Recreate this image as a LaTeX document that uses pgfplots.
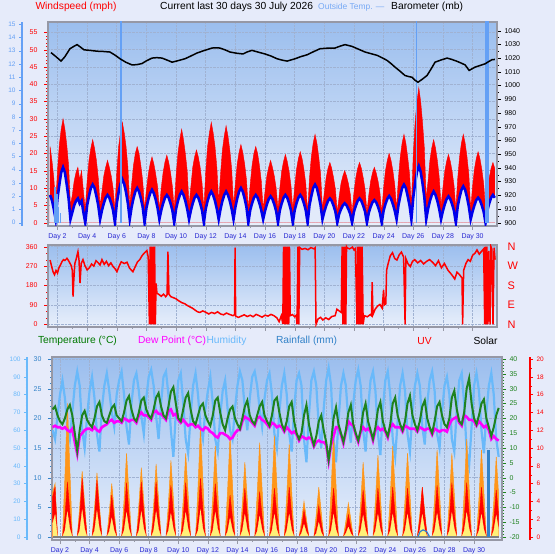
\documentclass[border=0pt]{standalone}
\usepackage{pgfplots}
\pgfplotsset{compat=1.18}
\usepackage{pgfplotstable}
\usepackage{fontspec}
\setmainfont{Liberation Sans}

\definecolor{pagebg}{RGB}{230,235,250}
\definecolor{plottop}{RGB}{155,190,238}
\definecolor{plotbot}{RGB}{232,239,251}
\definecolor{gridc}{RGB}{160,178,210}
\definecolor{framec}{RGB}{150,152,165}
\definecolor{daylbl}{RGB}{40,40,210}
\definecolor{windblue}{RGB}{0,0,235}
\definecolor{calmfill}{RGB}{226,234,250}
\definecolor{rainlb}{RGB}{100,160,245}
\definecolor{humlb}{RGB}{105,185,250}
\definecolor{titlelb}{RGB}{120,170,245}
\definecolor{tempgreen}{RGB}{30,130,30}
\definecolor{labgreen}{RGB}{0,120,0}
\definecolor{dewmag}{RGB}{255,0,255}
\definecolor{solarorange}{RGB}{255,150,25}
\definecolor{solaryellow}{RGB}{255,240,120}
\definecolor{rainblue}{RGB}{50,130,200}

\pgfplotsset{
  /pgf/number format/assume math mode=true,
  /pgf/number format/1000 sep={},
  tickfont/.style={font=\fontsize{7}{8}\selectfont},
  panel/.style={
    scale only axis,
    axis background/.style={top color=plottop, bottom color=plotbot},
    axis line style={framec, line width=1.5bp},
    grid=major,
    major grid style={gridc, densely dotted, line width=0.6bp},
    tick label style={tickfont},
    tick align=outside,
    major tick length=4bp, minor tick length=2bp,
    xtick pos=left, ytick pos=left,
    xtick style={framec},
  },
  overlay/.style={
    scale only axis,
    tick label style={tickfont},
    tick align=outside,
    major tick length=4bp, minor tick length=2bp,
  },
  days/.style={
    xtick={2,4,...,30},
    xticklabels={Day 2,Day 4,Day 6,Day 8,Day 10,Day 12,Day 14,Day 16,Day 18,Day 20,Day 22,Day 24,Day 26,Day 28,Day 30},
    minor x tick num=1,
    xticklabel style={text=daylbl},
  },
}

% Wind: gust (g) and average (a), one row every 3 hours from day 1.5
\pgfplotstableread[row sep=\\]{
g a \\
22 8 \\ 18 6.5 \\ 13 4 \\ 5 1 \\
15 7 \\ 22.5 11 \\ 27 14.5 \\ 30 16 \\ 27 14.5 \\ 22.5 11 \\ 16.5 7 \\ 5 1 \\
8 3 \\ 12 5 \\ 14.5 6.3 \\ 16 7 \\ 12.5 5.5 \\ 15 6.3 \\ 9 3 \\ 4 0 \\
12 5 \\ 18 7.7 \\ 21.5 10 \\ 24 11 \\ 21.5 10 \\ 18 7.7 \\ 13 5 \\ 5 1 \\
9 3.6 \\ 13.5 5.6 \\ 16 7.2 \\ 18 8 \\ 16 7.2 \\ 13.5 5.6 \\ 10 3.6 \\ 4 0 \\
14.5 5.6 \\ 22 8.8 \\ 26 11.2 \\ 29 12.5 \\ 26 11.2 \\ 22 8.8 \\ 16 5.6 \\ 5 1 \\
11 4.5 \\ 16.5 7 \\ 20 9 \\ 22 10 \\ 20 9 \\ 16.5 7 \\ 12 4.5 \\ 4 0 \\
9.5 4.3 \\ 14 6.7 \\ 17 8.5 \\ 19 9.5 \\ 17 8.5 \\ 14 6.7 \\ 10.5 4.3 \\ 4 1 \\
10 3.6 \\ 14.5 5.6 \\ 17.5 7.2 \\ 19.5 8 \\ 17.5 7.2 \\ 14.5 5.6 \\ 10.5 3.6 \\ 4 0 \\
13.5 4 \\ 20 6.3 \\ 24 8 \\ 27 9 \\ 24 8 \\ 20 6.3 \\ 15 4 \\ 5 1 \\
10.5 3.6 \\ 16 5.6 \\ 19 7.2 \\ 21 8 \\ 19 7.2 \\ 16 5.6 \\ 11.5 3.6 \\ 4 0 \\
14.5 4 \\ 22 6.3 \\ 26 8 \\ 29 9 \\ 26 8 \\ 22 6.3 \\ 16 4 \\ 6 1 \\
14 4 \\ 21 6.3 \\ 25 8 \\ 28 9 \\ 25 8 \\ 21 6.3 \\ 15.5 4 \\ 5 1 \\
11.3 4.5 \\ 17 7 \\ 20.3 9 \\ 22.6 10 \\ 20.3 9 \\ 17 7 \\ 12.4 4.5 \\ 4 0 \\
11 3.6 \\ 16.5 5.6 \\ 20 7.2 \\ 22 8 \\ 20 7.2 \\ 16.5 5.6 \\ 12 3.6 \\ 4 1 \\
9 3.4 \\ 13.5 5.3 \\ 16 6.8 \\ 18 7.6 \\ 16 6.8 \\ 13.5 5.3 \\ 10 3.4 \\ 4 0 \\
10 3.6 \\ 14.8 5.6 \\ 17.7 7.2 \\ 19.7 8 \\ 17.7 7.2 \\ 14.8 5.6 \\ 10.8 3.6 \\ 4 0 \\
10.3 3.6 \\ 15.4 5.6 \\ 18.5 7.2 \\ 20.5 8 \\ 18.5 7.2 \\ 15.4 5.6 \\ 11.3 3.6 \\ 3 0 \\
12.8 5 \\ 19 7.7 \\ 23 10 \\ 25.5 11 \\ 23 10 \\ 19 7.7 \\ 14 5 \\ 4 1 \\
8.7 3.2 \\ 13 4.9 \\ 15.7 6.3 \\ 17.4 7 \\ 15.7 6.3 \\ 13 4.9 \\ 9.6 3.2 \\ 3 0 \\
7.5 2.5 \\ 11.3 3.9 \\ 13.5 5 \\ 15 5.6 \\ 13.5 5 \\ 11.3 3.9 \\ 8.3 2.5 \\ 3 0 \\
8.7 3.2 \\ 13 4.9 \\ 15.7 6.3 \\ 17.4 7 \\ 15.7 6.3 \\ 13 4.9 \\ 9.6 3.2 \\ 3 0 \\
8 2.9 \\ 12 4.6 \\ 14.4 5.9 \\ 16 6.5 \\ 14.4 5.9 \\ 12 4.6 \\ 8.8 2.9 \\ 3 0 \\
10 3.5 \\ 15 5.4 \\ 18 6.9 \\ 20 7.7 \\ 18 6.9 \\ 15 5.4 \\ 11 3.5 \\ 4 1 \\
12.8 5 \\ 19 7.7 \\ 23 10 \\ 25.5 11 \\ 23 10 \\ 19 7.7 \\ 14 5 \\ 5 1 \\
19.5 7.3 \\ 29 11.4 \\ 35 14.7 \\ 39 16.3 \\ 35 14.7 \\ 29 11.4 \\ 21.5 7.3 \\ 7 1 \\
12 4 \\ 18 6.3 \\ 21.6 8 \\ 24 9 \\ 21.6 8 \\ 18 6.3 \\ 13.2 4 \\ 5 1 \\
10 3.4 \\ 14.8 5.3 \\ 17.7 6.8 \\ 19.7 7.6 \\ 17.7 6.8 \\ 14.8 5.3 \\ 10.8 3.4 \\ 4 0 \\
12.8 4.7 \\ 19 7.4 \\ 23 9.5 \\ 25.5 10.5 \\ 23 9.5 \\ 19 7.4 \\ 14 4.7 \\ 4 1 \\
10.3 3.2 \\ 15.4 5 \\ 18.5 6.5 \\ 20.5 7.2 \\ 18.5 6.5 \\ 15.4 5 \\ 11.3 3.2 \\ 4 0 \\
8.7 3.6 \\ 13 5.6 \\ 15.7 7.2 \\ 17.4 8 \\ 15.7 7.2 \\
}\windtab

% Temperature, dew point, humidity, solar, UV and light level, one row every 4 hours from day 1.5
\pgfplotstableread[row sep=\\]{
T D H S U Y \\
23 17 60 25 4.5 1.5 \\ 24 17.5 55 30 5.6 2.5 \\ 21 17 68 0 0 0 \\
19 17 80 0 0 0 \\ 18 16.5 88 0 0 0 \\ 20 17 78 34 2.2 0.7 \\ 23 16 62 75 6.2 2.8 \\ 24.5 15.5 55 38 2.8 0.9 \\ 21 16.5 70 0 0 0 \\
15 12 85 0 0 0 \\ 9 8 93 0 0 0 \\ 16 14 85 17 2.3 0.7 \\ 21 15 60 37 6.6 3.0 \\ 22.5 16 50 19 3.0 0.9 \\ 19.5 16.5 68 0 0 0 \\
18 16.5 82 0 0 0 \\ 17 16 90 0 0 0 \\ 20 17 78 16 2.2 0.7 \\ 24 16 58 36 6.4 2.9 \\ 25.5 15.5 48 18 2.9 0.9 \\ 21 17 72 0 0 0 \\
19 17.5 85 0 0 0 \\ 18.5 18 92 0 0 0 \\ 21 19 82 14 1.6 0.6 \\ 23.5 19.5 70 30 4.7 2.1 \\ 24.5 18.5 62 15 2.1 0.7 \\ 21 19 80 0 0 0 \\
20 19 88 0 0 0 \\ 19 18.5 93 0 0 0 \\ 22 20 80 21 2.1 0.7 \\ 26 19.5 62 47 6.1 2.7 \\ 27.5 19 52 24 2.7 0.9 \\ 23 19.5 75 0 0 0 \\
20 19.5 88 0 0 0 \\ 19 18.5 92 0 0 0 \\ 22 21 82 18 2.2 0.7 \\ 26 22 68 39 6.2 2.8 \\ 27 21 58 20 2.8 0.9 \\ 23 21 78 0 0 0 \\
21 20.5 90 0 0 0 \\ 20 19.5 94 0 0 0 \\ 23 22 85 18 2.2 0.7 \\ 27 22.5 68 41 6.2 2.8 \\ 28.5 21.5 55 21 2.8 0.9 \\ 24 21.5 75 0 0 0 \\
21 20.5 90 0 0 0 \\ 20 19.5 93 0 0 0 \\ 24 22.5 80 19 2.0 0.7 \\ 29 23 60 43 5.8 2.6 \\ 30.5 21 45 22 2.6 0.9 \\ 25 21.5 70 0 0 0 \\
20 19.5 88 0 0 0 \\ 19 18.5 92 0 0 0 \\ 23 19.5 75 21 2.1 0.7 \\ 27 18.5 55 47 6.1 2.7 \\ 28.5 17.5 47 24 2.7 0.9 \\ 23 18 68 0 0 0 \\
19 18 85 0 0 0 \\ 18 17 92 0 0 0 \\ 21 17.5 80 28 2.3 0.7 \\ 24 16.5 62 62 6.6 3.0 \\ 25 16 55 31 3.0 0.9 \\ 21 17 72 0 0 0 \\
19 16.5 82 0 0 0 \\ 17.5 15.5 90 0 0 0 \\ 21 15 75 23 2.1 0.7 \\ 26 14 55 51 6.0 2.7 \\ 27 13.5 48 26 2.7 0.9 \\ 22 15 68 0 0 0 \\
18 15 82 0 0 0 \\ 16 14.5 88 0 0 0 \\ 20 14 72 26 1.6 0.6 \\ 23 13 60 57 4.7 2.1 \\ 24 13.5 55 29 2.1 0.7 \\ 20 15 72 0 0 0 \\
18 16 85 0 0 0 \\ 16.5 16 93 0 0 0 \\ 20 19 88 19 1.9 0.7 \\ 24 20.5 72 42 5.5 2.5 \\ 26 20 60 21 2.5 0.8 \\ 21 19.5 78 0 0 0 \\
19 18.5 90 0 0 0 \\ 18 17.5 93 0 0 0 \\ 21 20 85 24 1.8 0.6 \\ 24 20.5 72 53 5.1 2.3 \\ 25.5 19.5 62 27 2.3 0.8 \\ 21 19 78 0 0 0 \\
19 18 88 0 0 0 \\ 17.5 17 92 0 0 0 \\ 21 18.5 80 26 1.9 0.7 \\ 26 18 58 57 5.5 2.5 \\ 27 17 50 29 2.5 0.8 \\ 22 17.5 70 0 0 0 \\
18 17 85 0 0 0 \\ 16 15.5 92 0 0 0 \\ 19 17 80 23 2.0 0.7 \\ 24 16 58 52 5.6 2.5 \\ 25.5 15 48 26 2.5 0.8 \\ 19 15.5 72 0 0 0 \\
15 14.5 88 0 0 0 \\ 13 12.5 92 0 0 0 \\ 15 14 85 9 1.0 0.4 \\ 21 13.5 55 20 3.0 1.4 \\ 24.5 13 42 10 1.4 0.5 \\ 18 13.5 68 0 0 0 \\
14 13 88 0 0 0 \\ 11 10.5 93 0 0 0 \\ 14 12 85 13 1.2 0.4 \\ 19 12.5 62 28 3.5 1.6 \\ 21 12 50 14 1.6 0.5 \\ 16 12 72 0 0 0 \\
12 11 88 0 0 0 \\ 6 5.5 95 0 0 0 \\ 12 11 85 26 1.9 0.7 \\ 20 14 55 58 5.5 2.5 \\ 23.7 17 42 29 2.5 0.8 \\ 18 17 65 0 0 0 \\
15 14.5 85 0 0 0 \\ 12 11.5 92 0 0 0 \\ 16 15.5 85 9 0.9 0.4 \\ 22 19 65 19 2.5 1.1 \\ 24.5 18 53 10 1.1 0.4 \\ 18 17.5 75 0 0 0 \\
15 14.5 88 0 0 0 \\ 12.5 12 94 0 0 0 \\ 16 15.5 85 19 1.9 0.7 \\ 22 17 60 42 5.3 2.4 \\ 25 16 48 21 2.4 0.8 \\ 19 16.5 72 0 0 0 \\
16 15.5 88 0 0 0 \\ 13 12.5 93 0 0 0 \\ 17 16 82 21 1.9 0.7 \\ 23 17 58 46 5.5 2.5 \\ 25.5 16 46 23 2.5 0.8 \\ 19 16.5 72 0 0 0 \\
16 15.5 88 0 0 0 \\ 14 13.5 93 0 0 0 \\ 18 17 80 23 2.0 0.7 \\ 25 18 55 51 5.6 2.5 \\ 27 17 45 26 2.5 0.8 \\ 21 17 65 0 0 0 \\
18 17 85 0 0 0 \\ 16 15.5 92 0 0 0 \\ 19 17.5 82 21 1.9 0.7 \\ 25 17 58 47 5.5 2.5 \\ 27.6 16.5 48 24 2.5 0.8 \\ 21 16.5 70 0 0 0 \\
18 16.5 85 0 0 0 \\ 16 15.5 92 0 0 0 \\ 19 17 85 13 2.0 0.7 \\ 24 16.5 62 28 5.6 2.5 \\ 26 16 52 14 2.5 0.8 \\ 20 16.5 75 0 0 0 \\
17 16.5 88 0 0 0 \\ 15 14.5 93 0 0 0 \\ 19 16.5 82 22 2.0 0.7 \\ 24 16 58 49 5.8 2.6 \\ 25.5 15.5 50 25 2.6 0.9 \\ 21 16 70 0 0 0 \\
18 16 85 0 0 0 \\ 17 15.5 90 0 0 0 \\ 20 18 80 21 2.1 0.7 \\ 27 19.5 55 47 6.1 2.7 \\ 29.3 20 48 24 2.7 0.9 \\ 23 20.5 72 0 0 0 \\
19 18.5 88 0 0 0 \\ 18 17.5 92 0 0 0 \\ 22 21 75 25 2.1 0.7 \\ 30 20.5 48 55 6.1 2.7 \\ 33.5 19.5 40 28 2.7 0.9 \\ 25 19.5 62 0 0 0 \\
20 19 85 0 0 0 \\ 18 17.5 92 0 0 0 \\ 21 19 82 22 2.0 0.7 \\ 25 18 60 49 5.6 2.5 \\ 26.4 17 47 25 2.5 0.8 \\ 20 17.5 70 0 0 0 \\
17 16 85 0 0 0 \\ 14 13 92 0 0 0 \\ 17 14 80 20 1.9 0.7 \\ 21 13 55 45 5.3 2.4 \\ 23.5 12.5 45 23 2.4 0.8 \\
}\wxtab

\begin{document}
\begin{tikzpicture}[x=1bp,y=1bp]
\useasboundingbox (0,0) rectangle (555,554);
\fill[pagebg] (0,0) rectangle (555,554);

% ---------- headings ----------
\begin{scope}[every node/.style={font=\fontsize{10.3}{12}\selectfont, inner sep=0pt}]
  \node[text=red] at (76,547) {Windspeed (mph)};
  \node[anchor=west] at (160,547) {Current last 30 days 30 July 2026};
  \node[text=titlelb, anchor=west, font=\fontsize{8.5}{10}\selectfont] at (318,547) {Outside Temp. ---};
  \node[anchor=west] at (391,547) {Barometer (mb)};
  \node[text=labgreen] at (77.5,213) {Temperature (°C)};
  \node[text=dewmag] at (172,213) {Dew Point (°C)};
  \node[text=humlb] at (226.5,213) {Humidity};
  \node[text=rainblue] at (306.5,213) {Rainfall (mm)};
  \node[text=red] at (424.5,213) {UV};
  \node at (485.5,213) {Solar};
\end{scope}

% ---------- panel 1: wind speed ----------
\begin{axis}[panel, days, at={(48bp,328bp)}, anchor=south west,
  width=449bp, height=204bp,
  xmin=1.36, xmax=31.65, ymin=-0.95, ymax=57.98,
  ytick={0,5,...,55}, minor y tick num=4,
  ytick style={red}, yticklabel style={text=red, xshift=-3bp}]
  \addplot[draw=red, fill=red, line width=0.4bp]
    table[x expr=1.5+\coordindex/8, y=g] {\windtab} \closedcycle;
  \addplot[draw=none, fill=calmfill]
    table[x expr=1.5+\coordindex/8, y=a] {\windtab} \closedcycle;
  \addplot[windblue, line width=2.6bp]
    table[x expr=1.5+\coordindex/8, y=a] {\windtab};
\end{axis}

% rain rate (light blue scale)
\begin{axis}[overlay, at={(48bp,328bp)}, anchor=south west,
  width=449bp, height=204bp, hide axis,
  xmin=1.36, xmax=31.65, ymin=-0.25, ymax=15.17]
  \addplot[ycomb, rainlb, line width=1.6bp]
    coordinates {(1.85,2.7) (1.95,2.2) (2.08,1.2) (2.2,0.7)};
  \addplot[ycomb, rainlb, line width=1.5bp]
    coordinates {(6.28,16) (26.22,16)};
  \addplot[ycomb, rainlb, line width=4.5bp]
    coordinates {(30.98,16)};
\end{axis}
\begin{axis}[overlay, at={(22bp,328bp)}, anchor=south west,
  width=1bp, height=204bp, xmin=0, xmax=1, ymin=-0.25, ymax=15.17,
  hide x axis, axis y line*=left,
  ytick={0,...,15}, minor y tick num=4,
  major tick length=3bp, minor tick length=1.5bp,
  y axis line style={rainlb, line width=1.5bp},
  ytick style={rainlb}, yticklabel style={text=rainlb, font=\fontsize{6.5}{7}\selectfont}]
  \addplot[draw=none] coordinates {(0,0)};
\end{axis}

% barometer
\begin{axis}[overlay, at={(48bp,328bp)}, anchor=south west,
  width=449bp, height=204bp,
  xmin=1.36, xmax=31.65, ymin=897.6, ymax=1046.3,
  hide x axis, axis y line*=right,
  y axis line style={framec, line width=1.5bp},
  ytick={900,910,...,1040}, minor y tick num=1,
  ytick style={black}]
  \addplot[black, line width=1.5bp] coordinates {
    (1.56,1024) (1.9,1021) (2.24,1017.8) (2.5,1021) (2.84,1026.8) (3.1,1028.5)
    (3.32,1029.8) (3.55,1028) (3.79,1026) (4.2,1025.6) (4.67,1025) (5.1,1024.8)
    (5.54,1024.4) (5.9,1022) (6.22,1019.5) (6.6,1017) (7.03,1015) (7.35,1015.2)
    (7.70,1016) (8.0,1018) (8.38,1020) (8.7,1020.3) (9.05,1020) (9.4,1018.5)
    (9.73,1017) (10.2,1018.3) (10.60,1019.5) (11.0,1021.5) (11.41,1023.7)
    (11.9,1025.5) (12.42,1027.3) (12.7,1027.5) (12.96,1027.3) (13.3,1026)
    (13.64,1024.4) (14.1,1023.5) (14.52,1023) (14.8,1024.5) (15.12,1025.6)
    (15.55,1024.3) (16.00,1023) (16.4,1021.5) (16.81,1019.5) (17.15,1018.5)
    (17.49,1017.8) (18.03,1019.5) (18.4,1021) (18.84,1022.4) (19.3,1024.8)
    (19.71,1026.8) (20.2,1027.2) (20.72,1027.3) (21.1,1028.8) (21.40,1029.8)
    (21.87,1028.5) (22.3,1026.5) (22.75,1024.4) (23.15,1023.2) (23.56,1022)
    (23.9,1020.2) (24.23,1018.3) (24.5,1016) (24.77,1013.4) (25.1,1010.5)
    (25.44,1007.3) (25.7,1006.5) (25.92,1006) (26.1,1004) (26.32,1002.4)
    (26.6,1004.5) (26.93,1007.3) (27.2,1012) (27.47,1017) (27.85,1018.5)
    (28.28,1020) (28.6,1019) (28.96,1017.6) (29.2,1016.5) (29.50,1015)
    (29.77,1011) (30.17,1013.4) (30.5,1014.6) (30.84,1015.8) (31.1,1017.5)
    (31.31,1018.8) (31.51,1019)};
\end{axis}

% ---------- panel 2: wind direction ----------
\begin{axis}[panel, at={(48bp,227bp)}, anchor=south west,
  width=449bp, height=82bp,
  xmin=1.36, xmax=31.65, ymin=-12.5, ymax=367.9,
  xtick={2,4,...,30}, xticklabels={}, minor x tick num=1,
  ytick={0,90,180,270,360}, minor y tick num=2,
  ytick style={red}, yticklabel style={text=red, xshift=-3bp}]
  \addplot[red, line width=1.5bp] coordinates {
    (1.5,298) (1.6,270) (1.7,244) (1.8,230) (1.9,250) (2.0,238) (2.1,262) (2.2,275)
    (2.3,290) (2.4,300) (2.5,296) (2.64,306) (2.75,295) (2.85,282) (2.93,272) (3.0,250)
    (3.05,128) (3.1,205) (3.17,282) (3.25,300) (3.38,337) (3.45,300) (3.52,191) (3.6,282)
    (3.72,300) (3.85,272) (4.0,252) (4.15,262) (4.3,280) (4.45,270) (4.6,295) (4.75,285)
    (4.87,275) (5.0,300) (5.15,278) (5.3,292) (5.45,272) (5.6,285) (5.75,268) (5.88,258)
    (6.01,244) (6.15,268) (6.3,290) (6.5,282) (6.69,288) (6.85,262) (7.0,250) (7.09,244)
    (7.25,268) (7.4,290) (7.55,300) (7.7,318) (7.85,330) (8.03,342) (8.12,312) (8.2,0)
    (8.25,360) (8.3,0) (8.35,360) (8.4,0) (8.45,360) (8.5,0) (8.55,360) (8.6,0)
    (8.65,190) (8.71,144) (8.85,138) (9.0,130) (9.15,140) (9.3,128) (9.39,137) (9.45,337)
    (9.52,140) (9.65,128) (9.8,124) (10.0,118) (10.2,108) (10.4,100) (10.6,95) (10.74,88)
    (10.9,82) (11.1,75) (11.3,65) (11.45,58) (11.61,55) (11.8,62) (12.0,56) (12.2,48)
    (12.4,55) (12.6,50) (12.8,58) (13.0,48) (13.2,44) (13.4,52) (13.6,46) (13.84,40)
    (13.95,45) (13.98,356) (14.02,38) (14.2,32) (14.4,38) (14.6,44) (14.8,36) (15.0,42)
    (15.2,35) (15.4,46) (15.6,40) (15.8,33) (16.0,42) (16.2,38) (16.4,46) (16.6,40)
    (16.8,30) (16.95,12) (17.1,40) (17.2,2) (17.25,360) (17.3,0) (17.35,360) (17.4,0)
    (17.45,360) (17.5,0) (17.55,360) (17.6,0) (17.65,360) (17.7,40) (17.85,45) (18.0,35)
    (18.1,42) (18.16,0) (18.22,360) (18.28,0) (18.34,356) (18.5,348) (18.7,352) (18.9,346)
    (19.1,356) (19.3,350) (19.38,355) (19.44,0) (19.58,25) (19.75,32) (19.9,20) (20.1,30)
    (20.3,22) (20.5,36) (20.73,40) (20.85,70) (21.0,62) (21.15,55) (21.2,360) (21.25,0)
    (21.3,360) (21.35,0) (21.4,360) (21.45,0) (21.5,360) (21.54,355) (21.7,350) (21.9,358)
    (22.0,345) (22.1,352) (22.2,0) (22.25,360) (22.3,0) (22.35,360) (22.4,0) (22.45,360)
    (22.5,0) (22.55,360) (22.62,0) (22.7,40) (22.9,35) (23.1,45) (23.18,40) (23.23,195)
    (23.28,45) (23.43,70) (23.6,85) (23.75,92) (23.9,75) (24.0,160) (24.05,90) (24.15,95)
    (24.2,250) (24.3,280) (24.45,318) (24.6,332) (24.75,305) (24.9,298) (25.05,322) (25.2,335)
    (25.35,312) (25.45,0) (25.5,305) (25.65,280) (25.8,268) (25.95,292) (26.1,300) (26.3,285)
    (26.5,296) (26.7,280) (26.9,292) (27.1,300) (27.3,288) (27.5,272) (27.7,295) (27.9,262)
    (28.1,282) (28.35,250) (28.5,238) (28.65,225) (28.8,210) (28.95,242) (29.1,232) (29.29,215)
    (29.33,0) (29.4,250) (29.55,282) (29.7,300) (29.85,292) (30.0,320) (30.17,330) (30.3,345)
    (30.45,325) (30.6,338) (30.75,350) (30.82,0) (30.87,360) (30.92,0) (30.97,360) (31.04,0)
    (31.1,340) (31.18,0) (31.24,360) (31.3,350) (31.38,0) (31.45,355) (31.52,300)};
\end{axis}
\begin{axis}[overlay, at={(48bp,227bp)}, anchor=south west,
  width=449bp, height=82bp,
  xmin=1.36, xmax=31.65, ymin=-12.5, ymax=367.9,
  hide x axis, axis y line*=right, y axis line style={draw=none},
  ytick={0,90,180,270,360}, yticklabels={N,E,S,W,N},
  major tick length=0pt,
  yticklabel style={text=red, font=\fontsize{11}{12}\selectfont, xshift=7bp}]
  \addplot[draw=none] coordinates {(2,0)};
\end{axis}

% ---------- panel 3: temperature, humidity, rain, UV, solar ----------
\begin{axis}[panel, days, at={(52bp,14bp)}, anchor=south west,
  width=450bp, height=183bp,
  xmin=1.46, xmax=31.89, ymin=-0.506, ymax=30.34,
  ytick={0,5,...,30}, minor y tick num=4,
  ytick style={rainblue}, yticklabel style={text=rainblue, xshift=-3bp}]
  \addplot[draw=none] coordinates {(2,0)};
\end{axis}

% humidity and solar
\begin{axis}[overlay, at={(52bp,14bp)}, anchor=south west,
  width=450bp, height=183bp, hide axis,
  xmin=1.46, xmax=31.89, ymin=-1.69, ymax=101.12]
  \addplot[humlb, line width=2.2bp]
    table[x expr=1.5+\coordindex/6, y=H] {\wxtab};
  \addplot[draw=solarorange, fill=solarorange, line width=0.5bp]
    table[x expr=1.5+\coordindex/6, y=S] {\wxtab} \closedcycle;
\end{axis}
\begin{axis}[overlay, at={(27bp,14bp)}, anchor=south west,
  width=1bp, height=183bp, xmin=0, xmax=1, ymin=-1.69, ymax=101.12,
  hide x axis, axis y line*=left,
  ytick={0,10,...,100}, minor y tick num=4,
  major tick length=3bp, minor tick length=1.5bp,
  y axis line style={humlb, line width=1.5bp},
  ytick style={humlb}, yticklabel style={text=humlb, font=\fontsize{6.5}{7}\selectfont}]
  \addplot[draw=none] coordinates {(0,0)};
\end{axis}

% UV and light level
\begin{axis}[overlay, at={(52bp,14bp)}, anchor=south west,
  width=450bp, height=183bp, hide axis,
  xmin=1.46, xmax=31.89, ymin=-0.337, ymax=20.225]
  \addplot[draw=red, fill=red, line width=0.4bp]
    table[x expr=1.5+\coordindex/6, y=U] {\wxtab} \closedcycle;
  \addplot[draw=solaryellow, fill=solaryellow, line width=0.3bp]
    table[x expr=1.5+\coordindex/6, y=Y] {\wxtab} \closedcycle;
\end{axis}
\begin{axis}[overlay, at={(530bp,14bp)}, anchor=south east,
  width=1bp, height=183bp, xmin=0, xmax=1, ymin=-0.337, ymax=20.225,
  hide x axis, axis y line*=right,
  ytick={0,2,...,20}, minor y tick num=1,
  major tick length=3bp, minor tick length=1.5bp,
  y axis line style={red, line width=1.5bp},
  ytick style={red}, yticklabel style={text=red, font=\fontsize{6.5}{7}\selectfont}]
  \addplot[draw=none] coordinates {(0,0)};
\end{axis}

% temperature and dew point
\begin{axis}[overlay, at={(52bp,14bp)}, anchor=south west,
  width=450bp, height=183bp,
  xmin=1.46, xmax=31.89, ymin=-21.01, ymax=40.67,
  hide x axis, axis y line*=right,
  y axis line style={framec, line width=1.5bp},
  ytick={-20,-15,...,40}, minor y tick num=4,
  ytick style={tempgreen}, yticklabel style={text=tempgreen}]
  \addplot[dewmag, line width=2.6bp]
    table[x expr=1.5+\coordindex/6, y=D] {\wxtab};
  \addplot[tempgreen, line width=2bp]
    table[x expr=1.5+\coordindex/6, y=T] {\wxtab};
\end{axis}

% rainfall
\begin{axis}[overlay, at={(52bp,14bp)}, anchor=south west,
  width=450bp, height=183bp, hide axis,
  xmin=1.46, xmax=31.89, ymin=-0.506, ymax=30.34]
  \addplot[gray, line width=1.6bp] coordinates {(1.5,0) (31.67,0)};
  \addplot[rainblue, line width=1.2bp]
    coordinates {(26.2,0) (26.35,0.9) (26.55,1.2) (26.8,0.9) (27.0,0)};
  \addplot[ycomb, rainblue, line width=3bp] coordinates {(30.97,14.7)};
\end{axis}
\end{tikzpicture}
\end{document}
